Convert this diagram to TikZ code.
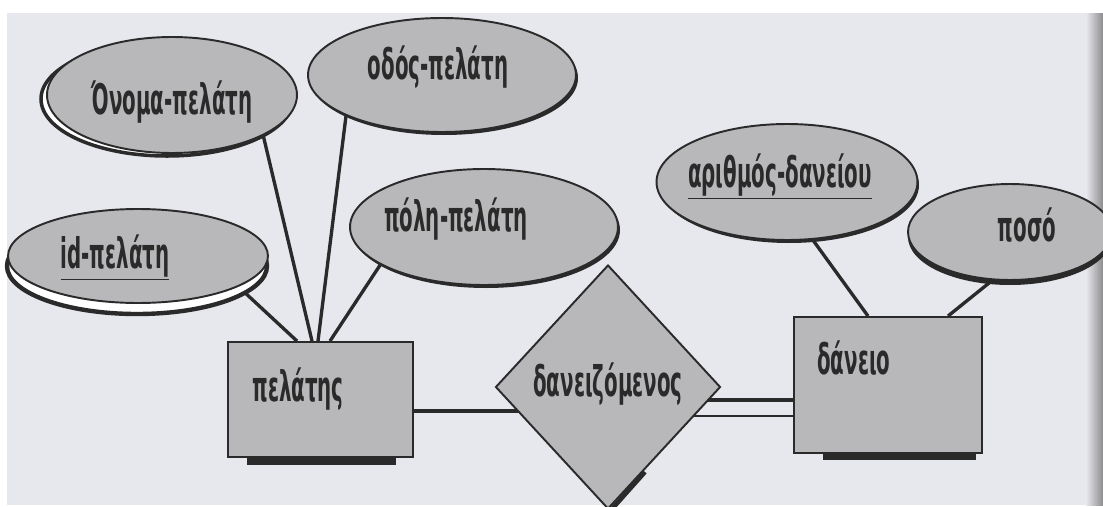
\documentclass[tikz,border=0pt]{standalone}
\usepackage{fontspec}
\newfontfamily\erfont[FakeStretch=0.47]{DejaVu Sans Bold}
\usetikzlibrary{shapes.geometric,backgrounds}

\definecolor{page}{HTML}{E7E8EE}
\definecolor{boxgray}{HTML}{B8B8BA}
\definecolor{ink}{HTML}{2A2A2A}

\begin{document}
\begin{tikzpicture}[x=.02cm,y=-.02cm,
  every node/.style={inner sep=0pt},
  attr/.style={ellipse,fill=boxgray,draw=ink,line width=1.1pt},
  entity/.style={rectangle,fill=boxgray,draw=ink,line width=1.1pt},
  rel/.style={diamond,fill=boxgray,draw=ink,line width=1.1pt},
  txt/.style={text=ink,font=\erfont\fontsize{24}{28}\selectfont},
  link/.style={draw=ink,line width=1.9pt},
  shadowfill/.style={fill=ink}]
\useasboundingbox (0,0) rectangle (1103,507);
\begin{scope}[on background layer]
\fill[white] (0,0) rectangle (1103,507);
\fill[page] (7,13) rectangle (1103,505);
\shade[left color=page,right color=black!45] (1086,13) rectangle (1103,505);
\end{scope}
% shadows under the shapes
\filldraw[fill=white,draw=ink,line width=2pt] (167,99) ellipse [x radius=126,y radius=57];
\filldraw[fill=white,draw=ink,line width=2.5pt] (137,266) ellipse [x radius=130,y radius=48];
\fill[shadowfill] (444,78) ellipse [x radius=134,y radius=57];
\fill[shadowfill] (486,230) ellipse [x radius=134,y radius=58];
\fill[shadowfill] (789,185) ellipse [x radius=130,y radius=58];
\fill[shadowfill] (1010,237) ellipse [x radius=102,y radius=48];
\fill[shadowfill] (247,457) rectangle (396,465);
\fill[shadowfill] (823,453) rectangle (976,460);
\draw[ink,line width=2.5pt] (645,472) -- (612,509);
% attributes
\node[attr,minimum width=5cm,minimum height=2.32cm] (onoma) at (172,95) {};
\node[attr,minimum width=5.36cm,minimum height=2.28cm] (odos) at (442,75) {};
\node[attr,minimum width=5.36cm,minimum height=2.32cm] (polh) at (484,227) {};
\node[attr,minimum width=5.2cm,minimum height=1.88cm] (id) at (138,256) {};
\node[attr,minimum width=5.22cm,minimum height=2.32cm] (arithmos) at (787,182) {};
\node[attr,minimum width=4.08cm,minimum height=1.92cm] (poso) at (1010,232) {};
% entities and relationship
\node[entity,minimum width=3.7cm,minimum height=2.3cm] (pelatis) at (320.5,399.5) {};
\node[entity,minimum width=3.76cm,minimum height=2.72cm] (daneio) at (888,385) {};
\node[rel,minimum width=4.5cm,minimum height=4.88cm] (daneiz) at (608,387) {};
% labels
\node[txt,anchor=base] (onoma-t) at (172,114) {Όνομα-πελάτη};
\node[txt,anchor=base] (odos-t) at (438,79) {οδός-πελάτη};
\node[txt,anchor=base] (polh-t) at (456,231) {πόλη-πελάτη};
\node[txt,anchor=base] (id-t) at (115,268) {\underline{id-πελάτη}};
\node[txt,anchor=base] (arithmos-t) at (780,187) {\underline{αριθμός-δανείου}};
\node[txt,anchor=base] (poso-t) at (1027,241) {ποσό};
\node[txt,anchor=base west] (pelatis-t) at (252,401) {πελάτης};
\node[txt,anchor=base west] (daneio-t) at (817,374) {δάνειο};
\node[txt,anchor=base] (daneiz-t) at (608,396) {δανειζόμενος};
% connectors
\begin{scope}[on background layer]
\draw[link] (id.-17) -- ([xshift=-.47cm]pelatis.north);
\draw[link] (onoma.-24) -- ([xshift=-.17cm]pelatis.north);
\draw[link] (odos.203) -- ([xshift=-.05cm]pelatis.north);
\draw[link] (polh.200) -- ([xshift=.19cm]pelatis.north);
\draw[link] (arithmos.-66) -- ([xshift=-.4cm]daneio.north);
\draw[link] (poso.-110) -- ([xshift=1.2cm]daneio.north);
\draw[link] ([yshift=-.23cm]pelatis.east) -- ([yshift=-.23cm]pelatis.east -| daneiz.center);
\draw[link,line width=2.8pt] ([yshift=-.3cm]daneio.west) -- ([yshift=-.3cm]daneio.west -| daneiz.center);
\draw[link,line width=1.6pt] ([yshift=-.62cm]daneio.west) -- ([yshift=-.62cm]daneio.west -| daneiz.center);
\end{scope}
\end{tikzpicture}
\end{document}
